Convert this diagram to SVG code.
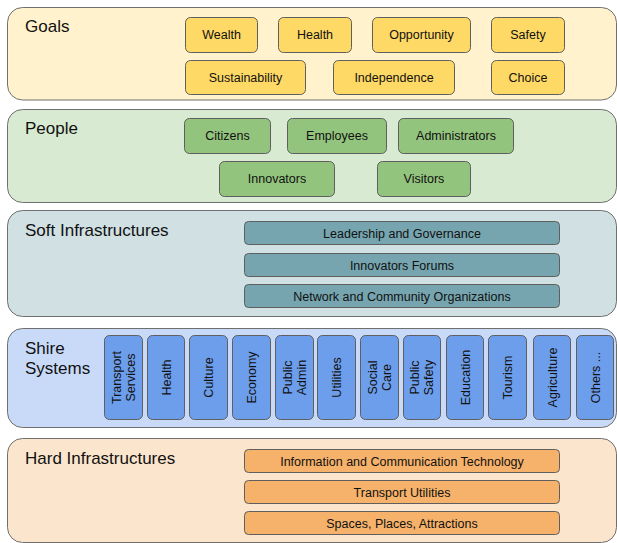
<svg xmlns="http://www.w3.org/2000/svg" width="617" height="543" viewBox="0 0 617 543">
<style>
.panel{stroke:#6f6f6f;stroke-width:1}
.node{stroke:#5f5f5f;stroke-width:1}
.title{font-family:"Liberation Sans",Arial,sans-serif;font-size:17px;fill:#111}
.lbl{font-family:"Liberation Sans",Arial,sans-serif;font-size:12.5px;fill:#111;text-anchor:middle}
.goal{fill:#ffd966}.ppl{fill:#93c47d}.soft{fill:#76a5af}.shire{fill:#6d9eeb}.hard{fill:#f6b26b}
</style>
<rect width="617" height="543" fill="#ffffff"/>
<g id="panel-goals">
<rect class="panel" x="7.5" y="7.5" width="609" height="92.5" rx="15" fill="#fff2cc"/>
<text class="title" x="25" y="32">Goals</text>
</g>
<g id="panel-people">
<rect class="panel" x="7.5" y="109.5" width="609" height="93" rx="15" fill="#d9ead3"/>
<text class="title" x="25" y="134">People</text>
</g>
<g id="panel-soft">
<rect class="panel" x="7.5" y="210.5" width="609" height="106" rx="15" fill="#d0e0e3"/>
<text class="title" x="25" y="236">Soft Infrastructures</text>
</g>
<g id="panel-shire">
<rect class="panel" x="7.5" y="328.5" width="609" height="99" rx="15" fill="#c9daf8"/>
<text class="title" x="25" y="354">Shire</text>
<text class="title" x="25" y="374">Systems</text>
</g>
<g id="panel-hard">
<rect class="panel" x="7.5" y="438.5" width="609" height="104" rx="15" fill="#fce5cd"/>
<text class="title" x="25" y="464">Hard Infrastructures</text>
</g>

<g id="goal-wealth"><rect class="node goal" x="185.5" y="17.5" width="72" height="35" rx="5"/><text class="lbl" x="221.5" y="39">Wealth</text></g>
<g id="goal-health"><rect class="node goal" x="278.5" y="17.5" width="73" height="35" rx="5"/><text class="lbl" x="315" y="39">Health</text></g>
<g id="goal-opportunity"><rect class="node goal" x="372.5" y="17.5" width="98" height="35" rx="5"/><text class="lbl" x="421.5" y="39">Opportunity</text></g>
<g id="goal-safety"><rect class="node goal" x="491.5" y="17.5" width="73" height="35" rx="5"/><text class="lbl" x="528" y="39">Safety</text></g>
<g id="goal-sustainability"><rect class="node goal" x="185.5" y="60.5" width="120" height="34" rx="5"/><text class="lbl" x="245.5" y="81.5">Sustainability</text></g>
<g id="goal-independence"><rect class="node goal" x="333.5" y="60.5" width="121" height="34" rx="5"/><text class="lbl" x="394" y="81.5">Independence</text></g>
<g id="goal-choice"><rect class="node goal" x="491.5" y="60.5" width="73" height="34" rx="5"/><text class="lbl" x="528" y="81.5">Choice</text></g>

<g id="ppl-citizens"><rect class="node ppl" x="184.5" y="118.5" width="86" height="35" rx="5"/><text class="lbl" x="227.5" y="140">Citizens</text></g>
<g id="ppl-employees"><rect class="node ppl" x="287.5" y="118.5" width="99" height="35" rx="5"/><text class="lbl" x="337" y="140">Employees</text></g>
<g id="ppl-administrators"><rect class="node ppl" x="398.5" y="118.5" width="115" height="35" rx="5"/><text class="lbl" x="456" y="140">Administrators</text></g>
<g id="ppl-innovators"><rect class="node ppl" x="219.5" y="161.5" width="115" height="35" rx="5"/><text class="lbl" x="277" y="183">Innovators</text></g>
<g id="ppl-visitors"><rect class="node ppl" x="377.5" y="161.5" width="93" height="35" rx="5"/><text class="lbl" x="424" y="183">Visitors</text></g>

<g id="soft-leadership"><rect class="node soft" x="244.5" y="221.5" width="315" height="23" rx="4"/><text class="lbl" x="402" y="237.5">Leadership and Governance</text></g>
<g id="soft-forums"><rect class="node soft" x="244.5" y="253.5" width="315" height="23" rx="4"/><text class="lbl" x="402" y="269.5">Innovators Forums</text></g>
<g id="soft-network"><rect class="node soft" x="244.5" y="284.5" width="315" height="23" rx="4"/><text class="lbl" x="402" y="300.5">Network and Community Organizations</text></g>

<g id="shire-transport"><rect class="node shire" x="104.5" y="335.5" width="38" height="84" rx="5"/><text class="lbl" transform="translate(123.5 377.5) rotate(-90)"><tspan x="0" y="-3">Transport</tspan><tspan x="0" y="11">Services</tspan></text></g>
<g id="shire-health"><rect class="node shire" x="147.5" y="335.5" width="37" height="84" rx="5"/><text class="lbl" transform="translate(166 377.5) rotate(-90)" y="4.5">Health</text></g>
<g id="shire-culture"><rect class="node shire" x="189.5" y="335.5" width="38" height="84" rx="5"/><text class="lbl" transform="translate(208.5 377.5) rotate(-90)" y="4.5">Culture</text></g>
<g id="shire-economy"><rect class="node shire" x="232.5" y="335.5" width="38" height="84" rx="5"/><text class="lbl" transform="translate(251.5 377.5) rotate(-90)" y="4.5">Economy</text></g>
<g id="shire-publicadmin"><rect class="node shire" x="275.5" y="335.5" width="38" height="84" rx="5"/><text class="lbl" transform="translate(294.5 377.5) rotate(-90)"><tspan x="0" y="-3">Public</tspan><tspan x="0" y="11">Admin</tspan></text></g>
<g id="shire-utilities"><rect class="node shire" x="317.5" y="335.5" width="38" height="84" rx="5"/><text class="lbl" transform="translate(336.5 377.5) rotate(-90)" y="4.5">Utilities</text></g>
<g id="shire-socialcare"><rect class="node shire" x="360.5" y="335.5" width="38" height="84" rx="5"/><text class="lbl" transform="translate(379.5 377.5) rotate(-90)"><tspan x="0" y="-3">Social</tspan><tspan x="0" y="11">Care</tspan></text></g>
<g id="shire-publicsafety"><rect class="node shire" x="403.5" y="335.5" width="37" height="84" rx="5"/><text class="lbl" transform="translate(422 377.5) rotate(-90)"><tspan x="0" y="-3">Public</tspan><tspan x="0" y="11">Safety</tspan></text></g>
<g id="shire-education"><rect class="node shire" x="446.5" y="335.5" width="37" height="84" rx="5"/><text class="lbl" transform="translate(465 377.5) rotate(-90)" y="4.5">Education</text></g>
<g id="shire-tourism"><rect class="node shire" x="488.5" y="335.5" width="38" height="84" rx="5"/><text class="lbl" transform="translate(507.5 377.5) rotate(-90)" y="4.5">Tourism</text></g>
<g id="shire-agriculture"><rect class="node shire" x="533.5" y="335.5" width="37" height="84" rx="5"/><text class="lbl" transform="translate(552 377.5) rotate(-90)" y="4.5">Agriculture</text></g>
<g id="shire-others"><rect class="node shire" x="576.5" y="335.5" width="37" height="84" rx="5"/><text class="lbl" transform="translate(595 377.5) rotate(-90)" y="4.5">Others ...</text></g>

<g id="hard-ict"><rect class="node hard" x="244.5" y="449.5" width="315" height="23" rx="4"/><text class="lbl" x="402" y="465.5">Information and Communication Technology</text></g>
<g id="hard-transport"><rect class="node hard" x="244.5" y="480.5" width="315" height="23" rx="4"/><text class="lbl" x="402" y="496.5">Transport Utilities</text></g>
<g id="hard-spaces"><rect class="node hard" x="244.5" y="511.5" width="315" height="23" rx="4"/><text class="lbl" x="402" y="527.5">Spaces, Places, Attractions</text></g>

<g id="connectors"></g>
</svg>
